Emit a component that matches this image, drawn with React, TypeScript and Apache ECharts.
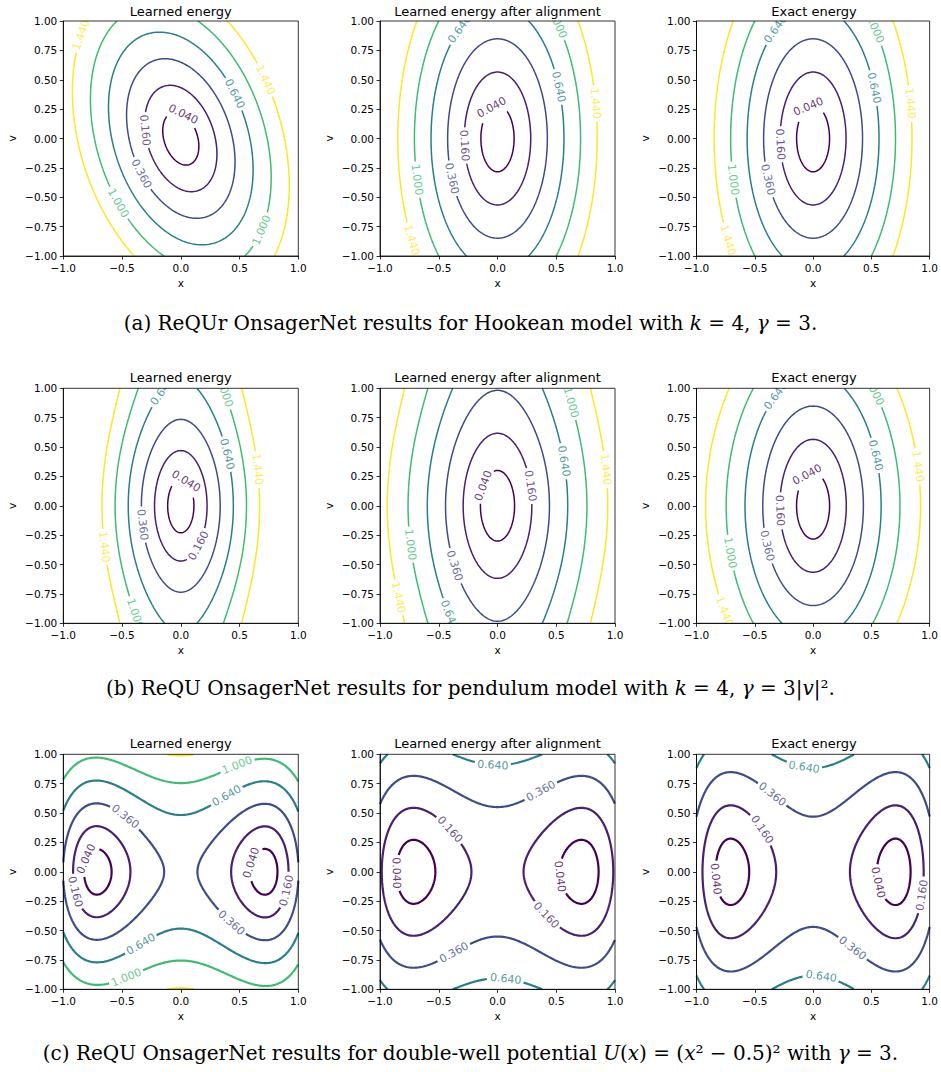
import { useEffect, useRef } from "react";
import * as echarts from "echarts";

// ---------- data ----------
const LEVELS = [0.04, 0.16, 0.36, 0.64, 1.0, 1.44];
const LEVEL_TEXT = ["0.040", "0.160", "0.360", "0.640", "1.000", "1.440"];
const LEVEL_COLORS = ["#440154", "#481f71", "#3e4c8a", "#277f8e", "#3dbc74", "#fde725"];

const PANEL_TITLES = ["Learned energy", "Learned energy after alignment", "Exact energy"];

const CAPTIONS = [
  "(a) ReQUr OnsagerNet results for Hookean model with {i|k} = 4, {i|γ} = 3.",
  "(b) ReQU OnsagerNet results for pendulum model with {i|k} = 4, {i|γ} = 3|{i|v}|².",
  "(c) ReQU OnsagerNet results for double-well potential {i|U}({i|x}) = ({i|x}² − 0.5)² with {i|γ} = 3.",
];

// energy surfaces: [coefficient, power of x, power of v]
const ENERGY_A_LEARNED = [[1.85, 2, 0], [0.74, 1, 1], [0.855, 0, 2]];
const ENERGY_A_ALIGNED = [[2.0, 2, 0], [0.5, 0, 2]];
const ENERGY_A_EXACT = [[2.0, 2, 0], [0.5, 0, 2]];
const ENERGY_B_LEARNED = [[3.2, 2, 0], [0.765, 0, 2], [-0.185, 0, 4]];
const ENERGY_B_ALIGNED = [[1.9, 2, 0], [-0.3, 4, 0], [0.45, 0, 2], [-0.08, 0, 4]];
const ENERGY_B_EXACT = [[2.0, 2, 0], [-0.36, 4, 0], [0.5, 0, 2]];
const ENERGY_C_LEARNED = [[1.49, 4, 0], [-1.526, 2, 0], [0.39, 0, 0], [1.07, 0, 2], [0.03, 3, 3]];
const ENERGY_C_ALIGNED = [[0.754, 4, 0], [-0.769, 2, 0], [0.196, 0, 0], [0.54, 0, 2]];
const ENERGY_C_EXACT = [[1.0, 4, 0], [-1.0, 2, 0], [0.25, 0, 0], [0.5, 0, 2]];

// contour label anchors: [level index, x, v]
const LABELS_A_LEARNED = [
  [5, -0.858, 0.881], [5, 0.717, 0.498], [3, 0.461, 0.385], [0, 0.016, 0.206],
  [1, -0.296, 0.072], [2, -0.324, -0.296], [4, -0.532, -0.551], [4, 0.689, -0.779],
];
const LABELS_A_ALIGNED = [
  [3, -0.32, 0.93], [4, 0.49, 0.966], [3, 0.523, 0.436], [5, 0.838, 0.3], [0, -0.049, 0.266],
  [1, -0.271, -0.055], [2, -0.39, -0.339], [4, -0.696, -0.353], [5, -0.73, -0.864],
];
const LABELS_A_EXACT = [
  [3, -0.33, 0.93], [4, 0.52, 0.94], [3, 0.529, 0.436], [5, 0.827, 0.3], [0, -0.039, 0.277],
  [1, -0.289, -0.055], [2, -0.394, -0.353], [4, -0.69, -0.353], [5, -0.73, -0.864],
];
const LABELS_B_LEARNED = [
  [3, -0.17, 0.985], [4, 0.376, 0.971], [3, 0.39, 0.437], [5, 0.66, 0.309], [0, 0.044, 0.209],
  [2, -0.29, -0.152], [1, 0.149, -0.337], [5, -0.654, -0.352], [4, -0.353, -0.906],
];
const LABELS_B_ALIGNED = [
  [4, 0.631, 0.886], [3, 0.569, 0.382], [5, 0.906, 0.309], [0, -0.149, 0.183], [1, 0.271, 0.166],
  [4, -0.753, -0.331], [2, -0.376, -0.514], [5, -0.836, -0.783], [3, -0.418, -0.934],
];
const LABELS_B_EXACT = [
  [3, -0.325, 0.937], [4, 0.535, 0.98], [3, 0.535, 0.431], [5, 0.905, 0.337], [0, -0.048, 0.269],
  [1, -0.274, -0.038], [2, -0.388, -0.337], [4, -0.716, -0.403], [5, -0.757, -0.898],
];
const LABELS_C_LEARNED = [
  [4, 0.476, 0.909], [3, 0.368, 0.681], [2, -0.466, 0.483], [0, -0.815, 0.114], [1, -0.877, -0.17],
  [0, 0.574, 0.085], [1, 0.887, -0.156], [2, 0.447, -0.411], [3, -0.347, -0.61], [4, -0.475, -0.88],
];
const LABELS_C_ALIGNED = [
  [3, -0.036, 0.923], [2, 0.362, 0.696], [1, -0.396, 0.37], [0, -0.853, -0.014],
  [0, 0.538, -0.043], [1, 0.413, -0.369], [2, -0.376, -0.681], [3, 0.072, -0.908],
];
const LABELS_C_EXACT = [
  [3, -0.076, 0.894], [2, -0.351, 0.653], [1, -0.436, 0.355], [0, -0.836, -0.056],
  [0, 0.557, -0.085], [1, 0.904, -0.198], [2, 0.341, -0.639], [3, 0.066, -0.894],
];

const PANEL_ENERGY = [
  [ENERGY_A_LEARNED, ENERGY_A_ALIGNED, ENERGY_A_EXACT],
  [ENERGY_B_LEARNED, ENERGY_B_ALIGNED, ENERGY_B_EXACT],
  [ENERGY_C_LEARNED, ENERGY_C_ALIGNED, ENERGY_C_EXACT],
];
const PANEL_LABELS = [
  [LABELS_A_LEARNED, LABELS_A_ALIGNED, LABELS_A_EXACT],
  [LABELS_B_LEARNED, LABELS_B_ALIGNED, LABELS_B_EXACT],
  [LABELS_C_LEARNED, LABELS_C_ALIGNED, LABELS_C_EXACT],
];

// ---------- layout ----------
const GRID_LEFTS = [63.3, 380, 696.5];
const GRID_TOPS = [21, 388.3, 754.3];
const GRID_SIZE = 235;
const TITLE_Y = [11, 377.5, 743.5];
const CAPTION_Y = [323, 688, 1053];
const LINE_WIDTHS = [1.5, 1.5, 2.2];
const SANS = "DejaVu Sans";
const SERIF = "DejaVu Serif";
const CAPTION_FONT = 20;
const TITLE_FONT = 13;
const TICK_FONT = 10.5;
const LABEL_FONT = 11;
const GRID_RES = 200;

type Pt = [number, number];
interface Poly { pts: Pt[]; closed: boolean }

function energyAt(terms: number[][], x: number, v: number) {
  let s = 0;
  for (const [c, p, q] of terms) s += c * Math.pow(x, p) * Math.pow(v, q);
  return s;
}

function traceContours(terms: number[][], level: number, n: number): Poly[] {
  const h = 2 / n;
  const z: number[][] = [];
  for (let i = 0; i <= n; i++) {
    const row: number[] = [];
    for (let j = 0; j <= n; j++) row.push(energyAt(terms, -1 + i * h, -1 + j * h));
    z.push(row);
  }
  const pos = new Map<string, Pt>();
  const adj = new Map<string, string[]>();
  const node = (key: string, i1: number, j1: number, i2: number, j2: number) => {
    if (!pos.has(key)) {
      const z1 = z[i1][j1], z2 = z[i2][j2];
      const t = (level - z1) / (z2 - z1);
      pos.set(key, [-1 + (i1 + t * (i2 - i1)) * h, -1 + (j1 + t * (j2 - j1)) * h]);
      adj.set(key, []);
    }
    return key;
  };
  const link = (a: string, b: string) => { adj.get(a)!.push(b); adj.get(b)!.push(a); };
  for (let i = 0; i < n; i++) {
    for (let j = 0; j < n; j++) {
      const a00 = z[i][j] >= level, a10 = z[i + 1][j] >= level;
      const a11 = z[i + 1][j + 1] >= level, a01 = z[i][j + 1] >= level;
      const B = a00 !== a10 ? node(`h${i},${j}`, i, j, i + 1, j) : null;
      const R = a10 !== a11 ? node(`v${i + 1},${j}`, i + 1, j, i + 1, j + 1) : null;
      const T = a01 !== a11 ? node(`h${i},${j + 1}`, i, j + 1, i + 1, j + 1) : null;
      const L = a00 !== a01 ? node(`v${i},${j}`, i, j, i, j + 1) : null;
      const list = [B, R, T, L].filter((k) => k !== null) as string[];
      if (list.length === 2) link(list[0], list[1]);
      else if (list.length === 4) {
        const c = (z[i][j] + z[i + 1][j] + z[i + 1][j + 1] + z[i][j + 1]) / 4 >= level;
        if (c === a00) { link(B!, R!); link(T!, L!); } else { link(B!, L!); link(R!, T!); }
      }
    }
  }
  const seen = new Set<string>();
  const walk = (start: string) => {
    const path = [start];
    seen.add(start);
    let cur = start;
    for (;;) {
      const nxt = adj.get(cur)!.find((k) => !seen.has(k));
      if (nxt === undefined) break;
      seen.add(nxt);
      path.push(nxt);
      cur = nxt;
    }
    return path;
  };
  const polys: Poly[] = [];
  for (const [k, nb] of adj) {
    if (nb.length === 1 && !seen.has(k)) polys.push({ pts: walk(k).map((q) => pos.get(q)!), closed: false });
  }
  for (const k of adj.keys()) {
    if (!seen.has(k)) {
      const pts = walk(k).map((q) => pos.get(q)!);
      pts.push(pts[0]);
      polys.push({ pts, closed: true });
    }
  }
  return polys;
}

const PX = GRID_SIZE / 2;
function cumLen(pts: Pt[]) {
  const c = [0];
  for (let k = 1; k < pts.length; k++) {
    c.push(c[k - 1] + Math.hypot(pts[k][0] - pts[k - 1][0], pts[k][1] - pts[k - 1][1]) * PX);
  }
  return c;
}
function at(pts: Pt[], cum: number[], s: number): Pt {
  const L = cum[cum.length - 1];
  if (s <= 0) return pts[0];
  if (s >= L) return pts[pts.length - 1];
  let k = 1;
  while (cum[k] < s) k++;
  const d = cum[k] - cum[k - 1] || 1;
  const t = (s - cum[k - 1]) / d;
  return [pts[k - 1][0] + t * (pts[k][0] - pts[k - 1][0]), pts[k - 1][1] + t * (pts[k][1] - pts[k - 1][1])];
}
function slicePts(pts: Pt[], cum: number[], a: number, b: number): Pt[] {
  const out: Pt[] = [at(pts, cum, a)];
  for (let k = 0; k < pts.length; k++) if (cum[k] > a && cum[k] < b) out.push(pts[k]);
  out.push(at(pts, cum, b));
  return out;
}
function angleDeg(p1: Pt, p2: Pt) {
  let d = (Math.atan2(p2[1] - p1[1], p2[0] - p1[0]) * 180) / Math.PI;
  if (d > 90) d -= 180;
  if (d < -90) d += 180;
  return d;
}

function buildPanel(terms: number[][], labels: number[][], lw: number, gi: number) {
  const series: any[] = [];
  const labelItems: any[] = [];
  const hw = 1.43 * LABEL_FONT + 2.5;
  LEVELS.forEach((lev, li) => {
    const polys = traceContours(terms, lev, GRID_RES);
    const byPoly: Map<number, number[]> = new Map();
    for (const lb of labels) {
      if (lb[0] !== li) continue;
      let best = Infinity, bp = -1, bk = -1;
      polys.forEach((p, pi) => p.pts.forEach((q, k) => {
        const d = (q[0] - lb[1]) ** 2 + (q[1] - lb[2]) ** 2;
        if (d < best) { best = d; bp = pi; bk = k; }
      }));
      if (bp < 0) continue;
      if (!byPoly.has(bp)) byPoly.set(bp, []);
      byPoly.get(bp)!.push(bk);
    }
    polys.forEach((poly, pi) => {
      let pts = poly.pts;
      const idxs = byPoly.get(pi) || [];
      const pieces: Pt[][] = [];
      if (!idxs.length) pieces.push(pts);
      else {
        let ks = idxs.slice();
        if (poly.closed) {
          const n = pts.length - 1;
          const k0 = ks[0];
          const base = pts.slice(0, n);
          const rot = base.slice(k0).concat(base.slice(0, k0));
          rot.push(rot[0]);
          pts = rot;
          ks = ks.map((k) => ((k % n) - k0 + n) % n);
        }
        const cum = cumLen(pts);
        const L = cum[cum.length - 1];
        const iv: number[][] = [];
        ks.forEach((k) => {
          const s0 = cum[k];
          let p1: Pt, p2: Pt;
          if (poly.closed && k === 0) {
            iv.push([-hw, hw]);
            iv.push([L - hw, L + hw]);
            p1 = at(pts, cum, L - 0.7 * hw);
            p2 = at(pts, cum, 0.7 * hw);
          } else {
            iv.push([s0 - hw, s0 + hw]);
            p1 = at(pts, cum, s0 - 0.7 * hw);
            p2 = at(pts, cum, s0 + 0.7 * hw);
          }
          labelItems.push({
            value: [pts[k][0], pts[k][1]],
            label: {
              show: true,
              formatter: LEVEL_TEXT[li],
              rotate: angleDeg(p1, p2),
              color: LEVEL_COLORS[li],
              fontSize: LABEL_FONT,
              fontFamily: SANS,
              position: "inside",
              align: "center",
              verticalAlign: "middle",
            },
          });
        });
        iv.sort((a, b) => a[0] - b[0]);
        let cur = 0;
        for (const [a, b] of iv) {
          if (a > cur + 0.3) pieces.push(slicePts(pts, cum, cur, Math.min(a, L)));
          cur = Math.max(cur, b);
        }
        if (cur < L - 0.3) pieces.push(slicePts(pts, cum, cur, L));
      }
      pieces.forEach((pc) => {
        series.push({
          type: "line",
          xAxisIndex: gi,
          yAxisIndex: gi,
          data: pc,
          symbol: "none",
          showSymbol: false,
          silent: true,
          z: 1,
          lineStyle: { color: LEVEL_COLORS[li], width: lw },
          animation: false,
        });
      });
    });
  });
  series.push({
    type: "scatter",
    xAxisIndex: gi,
    yAxisIndex: gi,
    symbolSize: 1,
    itemStyle: { color: "transparent" },
    silent: true,
    z: 1,
    data: labelItems,
    animation: false,
  });
  return series;
}

const fmt = (d: number) => (v: number) => (v < 0 ? "\u2212" : "") + Math.abs(v).toFixed(d);

function buildOption() {
  const grid: any[] = [], xAxis: any[] = [], yAxis: any[] = [], series: any[] = [], graphic: any[] = [];
  for (let r = 0; r < 3; r++) {
    for (let c = 0; c < 3; c++) {
      const gi = r * 3 + c;
      const left = GRID_LEFTS[c], top = GRID_TOPS[r];
      grid.push({ left, top, width: GRID_SIZE, height: GRID_SIZE, show: true, borderColor: "#000", borderWidth: 0.8, backgroundColor: "transparent", z: 10 });
      const axisCommon = {
        gridIndex: gi, type: "value", min: -1, max: 1, z: 10,
        nameLocation: "middle",
        nameTextStyle: { fontFamily: SANS, fontSize: TICK_FONT, color: "#000" },
        axisLine: { show: true, onZero: false, lineStyle: { color: "#000", width: 0.8 } },
        axisTick: { show: true, inside: false, length: 3.5, lineStyle: { color: "#000", width: 0.8 } },
        splitLine: { show: false },
      };
      xAxis.push({ ...axisCommon, interval: 0.5, name: "x", nameGap: 21,
        axisLabel: { fontFamily: SANS, fontSize: TICK_FONT, color: "#000", margin: 6, formatter: fmt(1), showMinLabel: true, showMaxLabel: true } });
      yAxis.push({ ...axisCommon, interval: 0.25, name: "v", nameGap: 46,
        axisLabel: { fontFamily: SANS, fontSize: TICK_FONT, color: "#000", margin: 6, formatter: fmt(2), showMinLabel: true, showMaxLabel: true } });
      series.push(...buildPanel(PANEL_ENERGY[r][c], PANEL_LABELS[r][c], LINE_WIDTHS[r], gi));
      graphic.push({ type: "rect", silent: true, z: 5, shape: { x: left - 1, y: top - 14, width: GRID_SIZE + 2, height: 13.6 }, style: { fill: "#fff" } });
      graphic.push({ type: "rect", silent: true, z: 5, shape: { x: left - 1, y: top + GRID_SIZE + 0.4, width: GRID_SIZE + 2, height: 14 }, style: { fill: "#fff" } });
      graphic.push({
        type: "text", z: 20, silent: true, x: left + GRID_SIZE / 2, y: TITLE_Y[r],
        style: { text: PANEL_TITLES[c], fontFamily: SANS, fontSize: TITLE_FONT, fill: "#000", textAlign: "center", align: "center", textVerticalAlign: "middle", verticalAlign: "middle" },
      });
    }
    graphic.push({
      type: "text", z: 20, silent: true, x: 470.5, y: CAPTION_Y[r],
      style: {
        text: CAPTIONS[r], fontFamily: SERIF, fontSize: CAPTION_FONT, fill: "#000",
        textAlign: "center", align: "center", textVerticalAlign: "middle", verticalAlign: "middle",
        rich: { i: { fontStyle: "italic", fontFamily: SERIF, fontSize: CAPTION_FONT, fill: "#000" } },
      },
    });
  }
  return { animation: false, backgroundColor: "#fff", grid, xAxis, yAxis, series, graphic };
}

export default function App() {
  const ref = useRef<HTMLDivElement>(null);
  useEffect(() => {
    const chart = echarts.init(ref.current!, null, { renderer: "svg" });
    chart.setOption(buildOption() as any);
    return () => chart.dispose();
  }, []);
  return <div ref={ref} style={{ position: "absolute", left: 0, top: 0, width: 941, height: 1072, background: "#fff" }} />;
}
